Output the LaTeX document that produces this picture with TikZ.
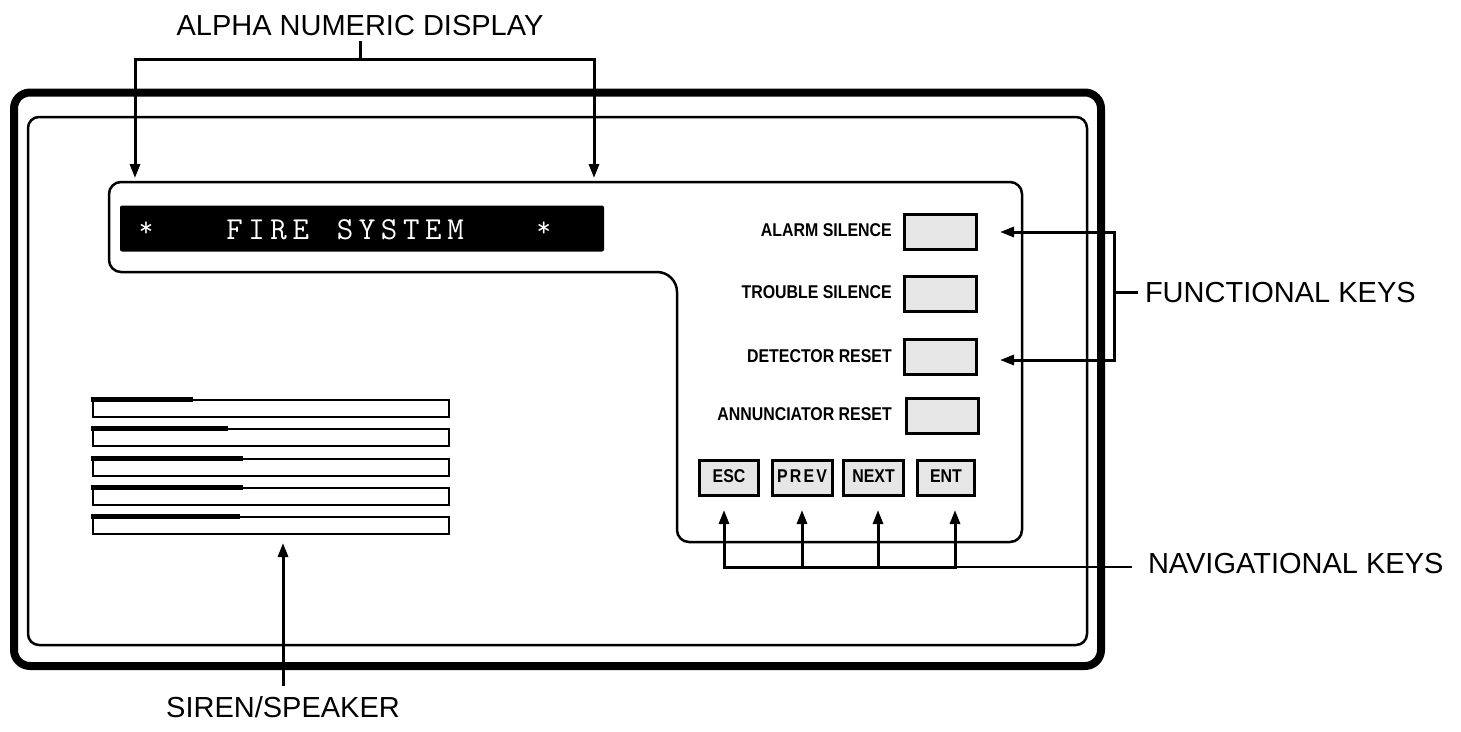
\documentclass[tikz,border=0pt]{standalone}
\usepackage{fontspec}
\setmainfont{Liberation Sans}
\usetikzlibrary{arrows.meta,calc}
\definecolor{keygray}{RGB}{230,230,230}
\newcommand\dcell[1]{\makebox[22.1pt]{#1}}
\newcommand\dstar{\raisebox{3pt}{\fontsize{28}{30}\selectfont *}}
\begin{document}
\begin{tikzpicture}[x=1pt,y=-1pt,
  tip/.tip={Triangle[length=14pt,width=10pt]},
  conn/.style={line width=3pt,-tip},
  bothconn/.style={line width=3pt,tip-tip},
  frameline/.style={line width=2.5pt},
  key/.style={draw,line width=3pt,fill=keygray,inner sep=0pt,minimum height=35pt},
  fkey/.style={key,minimum width=72pt},
  keytext/.style={font=\bfseries\fontsize{18.5}{20}\selectfont,inner sep=0pt},
  biglabel/.style={font=\fontsize{29}{32}\selectfont,outer sep=0pt},
  bar/.style={line width=2.5pt},
  barthick/.style={line width=5pt}]
\useasboundingbox (0,0) rectangle (1461,731);
% frames
\draw[line width=8pt,rounded corners=16pt] (14,92.5) rectangle (1101,666);
\draw[frameline,rounded corners=11pt] (28,117) rectangle (1087,645);
% display panel
\draw[frameline,rounded corners=12pt] (109,182) -- (1022,182) -- (1022,542) -- (677,542)
  [rounded corners=20pt] -- (677,272) [rounded corners=12pt] -- (109,272) -- cycle;
% display
\node[fill=black,rounded corners=2pt,minimum width=484pt,minimum height=46pt,inner sep=0pt] (disp) at (362,228.5) {};
\node[text=white,anchor=base,inner sep=0pt,font=\ttfamily\fontsize{32}{36}\selectfont] (disptext) at (345,239)
  {\dcell{\dstar}\dcell{}\dcell{}\dcell{}\dcell{F}\dcell{I}\dcell{R}\dcell{E}\dcell{}\dcell{S}\dcell{Y}\dcell{S}\dcell{T}\dcell{E}\dcell{M}\dcell{}\dcell{}\dcell{}\dcell{\dstar}};
% functional keys
\node[fkey] (alarm) at (940.5,232) {};
\node[fkey] (trouble) at (940.5,293.5) {};
\node[fkey] (detector) at (940.5,357) {};
\node[fkey] (annun) at (942,416) {};
\node[keytext,anchor=base east] (alarmt) at (892,236) {\scalebox{0.86}[1]{ALARM SILENCE}};
\node[keytext,anchor=base east] (troublet) at (892,298) {\scalebox{0.86}[1]{TROUBLE SILENCE}};
\node[keytext,anchor=base east] (detectort) at (892,362) {\scalebox{0.86}[1]{DETECTOR RESET}};
\node[keytext,anchor=base east] (annunt) at (892,420) {\scalebox{0.86}[1]{ANNUNCIATOR RESET}};
% navigation keys
\node[key,minimum width=59pt] (esc) at (729,477.5) {};
\node[key,minimum width=60pt] (prev) at (802,477.5) {};
\node[key,minimum width=60pt] (next) at (873.5,477.5) {};
\node[key,minimum width=57pt] (ent) at (946,477.5) {};
\node[keytext,anchor=base] at ($(esc.center)+(0,5)$) {\scalebox{0.86}[1]{ESC}};
\node[keytext,anchor=base] at ($(prev.center)+(0,5)$) {\scalebox{0.86}[1]{P\kern2.5pt R\kern2.5pt E\kern2.5pt V}};
\node[keytext,anchor=base] at ($(next.center)+(0,5)$) {\scalebox{0.86}[1]{NEXT}};
\node[keytext,anchor=base] at ($(ent.center)+(0,5)$) {\scalebox{0.86}[1]{ENT}};
% speaker bars
\foreach \t/\e in {400/193,429/228,459/243,488/243,517/240}{
  \draw[bar] (93,\t) rectangle (449,\t+17);
  \draw[barthick] (91,\t-0.5) -- (\e,\t-0.5);
}
% labels
\node[biglabel,anchor=base,inner sep=6pt] (alpha) at (360,35) {ALPHA NUMERIC DISPLAY};
\node[biglabel,anchor=base west,inner xsep=7pt,inner ysep=0pt] (fk) at (1138,302) {FUNCTIONAL KEYS};
\node[biglabel,anchor=base west,inner xsep=16pt,inner ysep=0pt] (nav) at (1132,573) {NAVIGATIONAL KEYS};
\node[biglabel,anchor=base,inner sep=10pt] (siren) at (283,717) {SIREN/SPEAKER};
% connector points
\coordinate (dl) at (135,178);
\coordinate (dr) at (594,178);
\coordinate (fa) at (1000,232);
\coordinate (fd) at (1000,360);
\coordinate (escp) at (724,510);
\coordinate (prevp) at (802,510);
\coordinate (nextp) at (878,510);
\coordinate (entp) at (955,510);
\coordinate (sirenp) at (283,543);
% connectors
\draw[bothconn] (dl) -- (dl |- 0,59) -- (dr |- 0,59) -- (dr);
\draw[line width=3pt] (alpha.south) -- (alpha.south |- 0,59);
\draw[bothconn] (fa) -- (1114,232) -- (1114,360) -- (fd);
\draw[line width=3pt] (fk.west) -- (1114,0 |- fk.west);
\draw[bothconn] (escp) -- (escp |- 0,567) -- (entp |- 0,567) -- (entp);
\draw[conn] (prevp |- 0,567) -- (prevp);
\draw[conn] (nextp |- 0,567) -- (nextp);
\draw[line width=1.2pt] (entp |- 0,567) -- (nav.west |- 0,567);
\draw[conn] (siren.north) -- (sirenp);
\end{tikzpicture}
\end{document}
